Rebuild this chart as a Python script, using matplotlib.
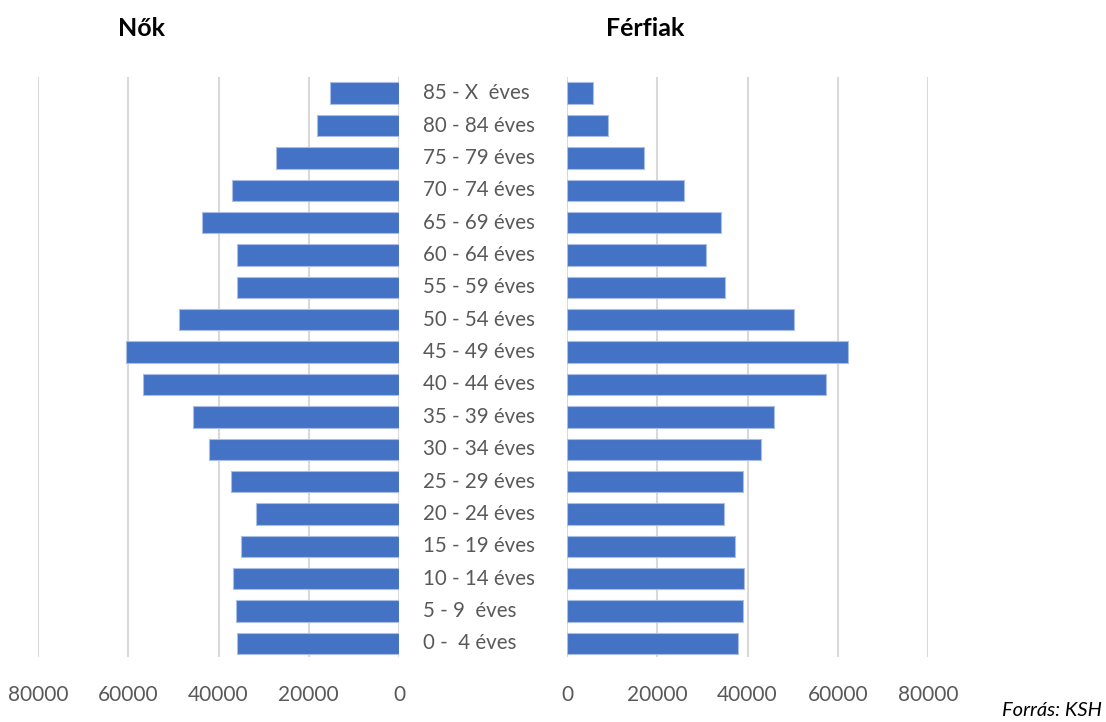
import matplotlib.pyplot as plt
import numpy as np

plt.rcParams['font.family'] = ['Lato', 'DejaVu Sans']

korcsoport = ['0 -  4 éves', '5 - 9  éves', '10 - 14 éves', '15 - 19 éves', '20 - 24 éves',
              '25 - 29 éves', '30 - 34 éves', '35 - 39 éves', '40 - 44 éves', '45 - 49 éves',
              '50 - 54 éves', '55 - 59 éves', '60 - 64 éves', '65 - 69 éves', '70 - 74 éves',
              '75 - 79 éves', '80 - 84 éves', '85 - X  éves']
nok = [35800, 36200, 36900, 35100, 31800, 37300, 42200, 45600, 56700, 60400,
       48700, 36000, 36000, 43600, 37100, 27300, 18200, 15300]
ferfiak = [37800, 39100, 39300, 37300, 34700, 39100, 42900, 45800, 57300, 62200,
           50200, 35100, 30700, 34200, 26000, 17100, 9100, 5800]
ticks = [0, 20000, 40000, 60000, 80000]

szin = '#4472C4'
racs = '#d9d9d9'
felirat = '#595959'

fig = plt.figure(figsize=(11.06, 7.22), dpi=100)
ax1 = fig.add_axes([0.0344, 0.09, 0.3264, 0.8034])
ax2 = fig.add_axes([0.5127, 0.09, 0.3264, 0.8034])

y = np.arange(len(korcsoport))
ax1.barh(y, nok, height=0.66, color=szin, edgecolor='#a9bde6', linewidth=0.8, zorder=3)
ax2.barh(y, ferfiak, height=0.66, color=szin, edgecolor='#a9bde6', linewidth=0.8, zorder=3)

for ax in (ax1, ax2):
    ax.set_xlim(0, 80000)
    ax.set_ylim(-0.42, 17.5)
    ax.set_xticks(ticks)
    ax.set_xticklabels([str(t) for t in ticks])
    ax.set_yticks([])
    ax.grid(axis='x', color=racs, linewidth=1.5, zorder=0)
    for s in ax.spines.values():
        s.set_visible(False)
    ax.tick_params(axis='x', length=0, labelsize=15, labelcolor=felirat, pad=20)
ax1.invert_xaxis()

for i, k in enumerate(korcsoport):
    ax2.text(-0.40, i, k, transform=ax2.get_yaxis_transform(), ha='left', va='center',
             fontsize=14.8, color=felirat)

fig.text(142 / 1106, 1 - 28 / 722, 'Nők', ha='center', va='center', fontsize=18, fontweight='bold')
fig.text(645 / 1106, 1 - 28 / 722, 'Férfiak', ha='center', va='center', fontsize=18, fontweight='bold')
fig.text(1102 / 1106, 1 - 711 / 722, 'Forrás: KSH', ha='right', va='center', fontsize=14.5,
         style='italic', color='black')

fig.savefig('out.png', dpi=100)
